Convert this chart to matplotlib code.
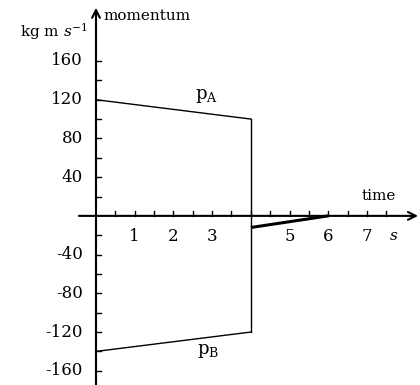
"""
Momentum of two bodies before and after a collision
"""

import numpy as np
import matplotlib.pyplot as plt

# data
t_A     = [0, 4]
p_A     = [120, 100]
t_B     = [0, 4]
p_B     = [-140, -120]
t_jump  = [4, 4]
p_jump  = [100, -120]
t_after = [4, 6]
p_after = [-12, 0]

x_ticks  = [1, 2, 3, 5, 6, 7]
y_ticks  = [160, 120, 80, 40, -40, -80, -120, -160]
x_minor  = np.arange(0.5, 8.0, 0.5)
y_minor  = np.arange(-160, 161, 20)

plt.rc('font', family='DejaVu Serif')
plt.rc('mathtext', fontset='dejavuserif')

fig = plt.figure(figsize=(4.2, 3.85), dpi=100)
ax = fig.add_axes([0, 0, 1, 1])
ax.set_xlim(-2.48, 8.37)
ax.set_ylim(-174.7, 223)
ax.axis('off')

# axes with arrows
ax.annotate('', xy=(8.32, 0), xytext=(-0.44, 0),
            arrowprops=dict(arrowstyle='->', lw=1.5, color='black',
                            mutation_scale=14, shrinkA=0, shrinkB=0))
ax.annotate('', xy=(0, 215), xytext=(0, -175),
            arrowprops=dict(arrowstyle='->', lw=1.5, color='black',
                            mutation_scale=14, shrinkA=0, shrinkB=0))

# ticks
for xm in x_minor:
    ax.plot([xm, xm], [0, 4.5 * 40 / 38.7], color='black', lw=1.0)
for ym in y_minor:
    if ym == 0:
        continue
    ax.plot([0, 5 / 38.7], [ym, ym], color='black', lw=1.0)

for xt in x_ticks:
    ax.text(xt, -21, str(xt), ha='center', va='center', fontsize=12)
for yt in y_ticks:
    ax.text(-0.34, yt, str(yt), ha='right', va='center', fontsize=12)

# lines
ax.plot(t_A, p_A, color='black', lw=1.0)
ax.plot(t_B, p_B, color='black', lw=1.0)
ax.plot(t_jump, p_jump, color='black', lw=1.0)
ax.plot(t_after, p_after, color='black', lw=2.2, solid_capstyle='butt')

# labels
ax.text(0.18, 206, 'momentum', ha='left', va='center', fontsize=11)
ax.text(-0.22, 190, r'kg m $\mathit{s}^{-1}$', ha='right', va='center', fontsize=11)
ax.text(7.3, 21, 'time', ha='center', va='center', fontsize=11)
ax.text(7.7, -21, 's', ha='center', va='center', fontsize=11, style='italic')
ax.text(2.85, 124, r'p$_{\mathrm{A}}$', ha='center', va='center', fontsize=13)
ax.text(2.9, -140, r'p$_{\mathrm{B}}$', ha='center', va='center', fontsize=13)

plt.savefig('out.png', dpi=100)
